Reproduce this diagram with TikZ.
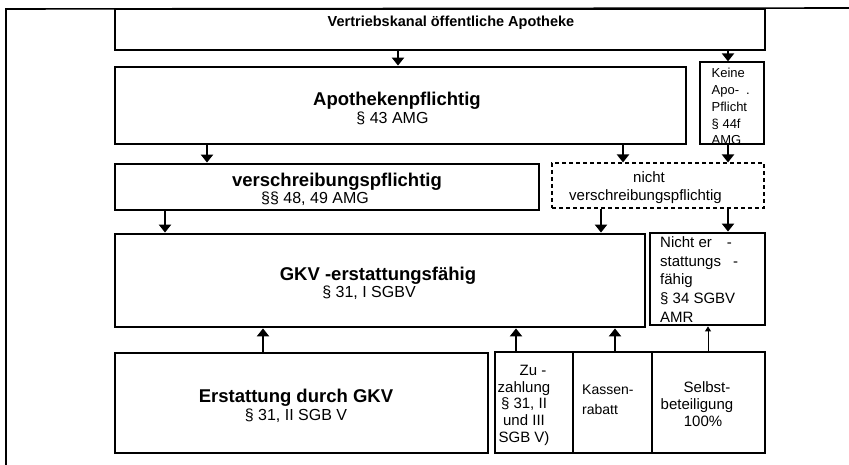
\documentclass[tikz,border=0pt]{standalone}
\usepackage{fontspec}
\setmainfont{Liberation Sans}
\usetikzlibrary{arrows.meta}

\begin{document}
\begin{tikzpicture}[x=1pt, y=-1pt,
    box/.style={draw, line width=2.8pt, inner sep=0pt},
    thinbox/.style={draw, line width=1.2pt, inner sep=0pt},
    dashbox/.style={draw, line width=1.1pt, dash pattern=on 4pt off 3pt, inner sep=0pt},
    head/.style={font=\fontsize{18.5}{20}\selectfont\bfseries, inner sep=0pt, anchor=base},
    para/.style={font=\fontsize{16}{18}\selectfont, inner sep=0pt, anchor=base},
    note/.style={font=\fontsize{15}{#1}\selectfont, inner sep=0pt, anchor=north},
    note/.default=17,
    arr/.style={line width=2pt, -{Triangle[length=8pt,width=12pt]}}
    ]
    \useasboundingbox (0,0) rectangle (849,465);
    % frame
    \draw[line width=1.6pt] (6,465) -- (6,9) -- (849,8);

    % boxes
    \node[thinbox, minimum width=650, minimum height=41] (vk) at (440,29.5) {};
    \node[box, minimum width=571, minimum height=77] (apo) at (400.5,105.5) {};
    \node[thinbox, minimum width=64, minimum height=82] (keine) at (732,103) {};
    \node[box, minimum width=424, minimum height=46] (vsp) at (327,187) {};
    \node[dashbox, minimum width=212, minimum height=45] (nvsp) at (658,185.5) {};
    \node[box, minimum width=530, minimum height=93] (gkv) at (380,280.5) {};
    \node[box, minimum width=115, minimum height=92] (nerst) at (707.5,279) {};
    \node[box, minimum width=373, minimum height=100] (erst) at (301.5,403) {};
    \node[box, minimum width=78, minimum height=101] (zuz) at (534,402.5) {};
    \node[box, minimum width=79, minimum height=101] (kas) at (612.5,402.5) {};
    \node[box, minimum width=113, minimum height=101] (selb) at (708.5,402.5) {};

    % texts
    \node[head, font=\fontsize{14.5}{16}\selectfont\bfseries] (vkt) at (451,27) {Vertriebskanal öffentliche Apotheke};
    \node[head] (apot) at (397,105.5) {Apothekenpflichtig};
    \node[para] (apos) at (392.5,124) {§ 43 AMG};
    \node[head] (vspt) at (337,186.5) {verschreibungspflichtig};
    \node[para] (vsps) at (315,204) {§§ 48, 49 AMG};
    \node[head] (gkvt) at (378,280.5) {GKV -erstattungsfähig};
    \node[para] (gkvs) at (369,297.5) {§ 31, I SGBV};
    \node[head] (erstt) at (296,402.5) {Erstattung durch GKV};
    \node[para] (ersts) at (296,420) {§ 31, II SGB V};
    \node[note, font=\fontsize{13}{16.7}\selectfont, anchor=north west, align=left] (keinet) at (711.5,68.3)
      {Keine\\Apo-\hspace{7pt}.\\Pflicht\\§ 44f\\AMG};
    \node[note=17.5, align=center] (nvspt) at (645.5,171.7) {\hspace*{7pt}nicht\\verschreibungspflichtig};
    \node[note=18.6, anchor=north west, align=left] (nerstt) at (660,236.7)
      {Nicht er\hspace{15pt}-\\stattungs\hspace{12pt}-\\fähig\\§ 34 SGBV\\AMR};
    \node[note=16.7, align=center] (zuzt) at (524,365) {\hspace*{18pt}Zu -\\zahlung\\§ 31, II\\und III\\SGB V)};
    \node[note, font=\fontsize{14}{19.5}\selectfont, anchor=north west, align=left] (kast) at (582,385) {Kassen-\\rabatt};
    \node[note=17, align=center] (selbt) at (697,381.7) {\hspace*{20pt}Selbst-\\beteiligung\\\hspace*{12pt}100\%};

    % arrows
    \coordinate (c1) at (398,0);
    \coordinate (c2) at (728,0);
    \coordinate (c3) at (207,0);
    \coordinate (c4) at (623,0);
    \coordinate (c5) at (165,0);
    \coordinate (c6) at (601,0);
    \coordinate (c7) at (263,0);
    \coordinate (c8) at (516,0);
    \coordinate (c9) at (615,0);
    \coordinate (c10) at (708,0);
    \draw[arr] (vk.south -| c1) -- (apo.north -| c1);
    \draw[arr] (vk.south -| c2) -- (keine.north -| c2);
    \draw[arr] (apo.south -| c3) -- (vsp.north -| c3);
    \draw[arr] (apo.south -| c4) -- (nvsp.north -| c4);
    \draw[arr] (keine.south -| c2) -- (nvsp.north -| c2);
    \draw[arr] (vsp.south -| c5) -- (gkv.north -| c5);
    \draw[arr] (nvsp.south -| c6) -- (gkv.north -| c6);
    \draw[arr] (nvsp.south -| c2) -- (nerst.north -| c2);
    \draw[arr] (erst.north -| c7) -- (gkv.south -| c7);
    \draw[arr] (zuz.north -| c8) -- (gkv.south -| c8);
    \draw[arr] (kas.north -| c9) -- (gkv.south -| c9);
    \draw[line width=1pt, -{Triangle[length=5pt,width=6pt]}] (selb.north -| c10) -- (nerst.south -| c10);
\end{tikzpicture}
\end{document}
